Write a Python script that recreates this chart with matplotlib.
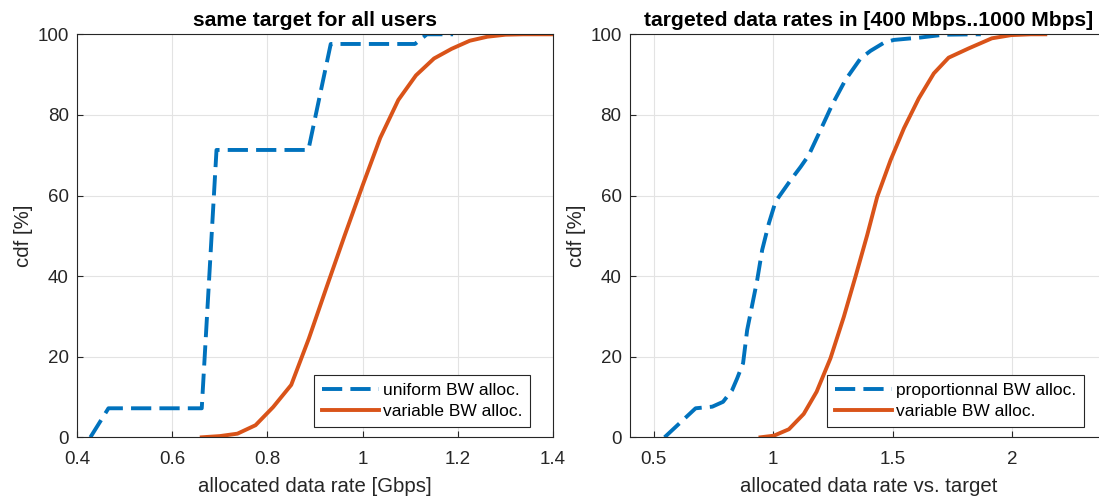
import matplotlib
matplotlib.use("Agg")
import matplotlib.pyplot as plt

plt.rcParams['font.family'] = ['Liberation Sans', 'DejaVu Sans']

# left panel: same target for all users (x in Gbps, cdf in %)
uni_x = [0.428, 0.466, 0.662, 0.693, 0.886, 0.933, 1.110, 1.135, 1.19]
uni_y = [0, 7.2, 7.2, 71.3, 71.3, 97.6, 97.6, 100, 100]

var1_x = [0.662, 0.700, 0.737, 0.775, 0.812, 0.850, 0.887, 0.925, 0.962, 1.000,
          1.037, 1.075, 1.112, 1.150, 1.187, 1.225, 1.262, 1.300, 1.337, 1.375, 1.400]
var1_y = [0, 0.3, 0.9, 3.0, 7.5, 13.0, 24.5, 37.5, 50.0, 62.5,
          74.3, 83.7, 89.8, 94.0, 96.4, 98.4, 99.4, 99.9, 100, 100, 100]

# right panel: targeted rates in [400..1000 Mbps] (x = allocated / target)
prop_x = [0.545, 0.675, 0.745, 0.790, 0.828, 0.849, 0.874, 0.891, 0.912, 0.933,
          0.954, 0.982, 1.010, 1.073, 1.115, 1.149, 1.198, 1.247, 1.303, 1.366,
          1.408, 1.464, 1.505, 1.617, 1.715, 1.855, 1.87]
prop_y = [0, 7.2, 7.6, 8.8, 11.7, 14.6, 18.4, 26.6, 32.8, 39.0,
          46.5, 53.1, 58.5, 63.8, 67.1, 70.0, 76.2, 82.5, 88.7, 94.0,
          95.9, 97.9, 98.6, 99.2, 99.9, 100, 100]

var2_x = [0.947, 1.003, 1.066, 1.128, 1.182, 1.240, 1.296, 1.345, 1.394, 1.436,
          1.492, 1.548, 1.610, 1.673, 1.735, 1.819, 1.916, 1.997, 2.08, 2.14]
var2_y = [0, 0.4, 2.0, 5.8, 11.3, 19.6, 29.9, 39.9, 50.2, 59.7,
          68.8, 76.7, 84.1, 90.3, 94.2, 96.5, 99.0, 99.8, 100, 100]

blue = '#0072BD'
orange = '#D95319'
axcol = '#262626'

fig = plt.figure(figsize=(10.99, 5), dpi=100)
ax1 = fig.add_axes([0.0701, 0.1254, 0.4331, 0.806])
ax2 = fig.add_axes([0.5732, 0.1254, 0.4344, 0.806])

dash = (0, (5.2, 2.1))
lw = 2.8

ax1.plot(uni_x, uni_y, color=blue, lw=lw, linestyle=dash, label='uniform BW alloc.')
ax1.plot(var1_x, var1_y, color=orange, lw=lw, label='variable BW alloc.')
ax1.set_xlim(0.4, 1.4)
ax1.set_xticks([0.4, 0.6, 0.8, 1.0, 1.2, 1.4])
ax1.set_xticklabels(['0.4', '0.6', '0.8', '1', '1.2', '1.4'])
ax1.set_title('same target for all users', fontsize=15.2, fontweight='bold', pad=6)
ax1.set_xlabel('allocated data rate [Gbps]', labelpad=6)

ax2.plot(prop_x, prop_y, color=blue, lw=lw, linestyle=dash, label='proportionnal BW alloc.')
ax2.plot(var2_x, var2_y, color=orange, lw=lw, label='variable BW alloc.')
ax2.set_xlim(0.4, 2.4)
ax2.set_xticks([0.5, 1.0, 1.5, 2.0])
ax2.set_xticklabels(['0.5', '1', '1.5', '2'])
ax2.set_title('targeted data rates in [400 Mbps..1000 Mbps]', fontsize=15.2, fontweight='bold', pad=6)
ax2.set_xlabel('allocated data rate vs. target', labelpad=6)

for ax, lx in ((ax1, 0.952), (ax2, 0.951)):
    ax.set_ylim(0, 100)
    ax.set_yticks([0, 20, 40, 60, 80, 100])
    ax.set_ylabel('cdf [%]', labelpad=3)
    ax.xaxis.label.set_size(14.7)
    ax.yaxis.label.set_size(14.7)
    ax.xaxis.label.set_color(axcol)
    ax.yaxis.label.set_color(axcol)
    ax.grid(True, color='#e3e3e3', linewidth=0.8)
    ax.set_axisbelow(True)
    ax.tick_params(direction='in', length=4, labelsize=13.5, colors=axcol, width=0.8)
    ax.tick_params(axis='x', pad=10)
    ax.tick_params(axis='y', pad=6)
    for s in ax.spines.values():
        s.set_color(axcol)
        s.set_linewidth(0.8)
    leg = ax.legend(loc='lower right', bbox_to_anchor=(lx, 0.026), fontsize=12.5,
                    fancybox=False, framealpha=1, edgecolor=axcol, handlelength=3.3,
                    borderaxespad=0, handletextpad=0.2, borderpad=0.45,
                    labelspacing=0.35)
    leg.get_frame().set_linewidth(0.8)

fig.savefig('out.png', dpi=100)
